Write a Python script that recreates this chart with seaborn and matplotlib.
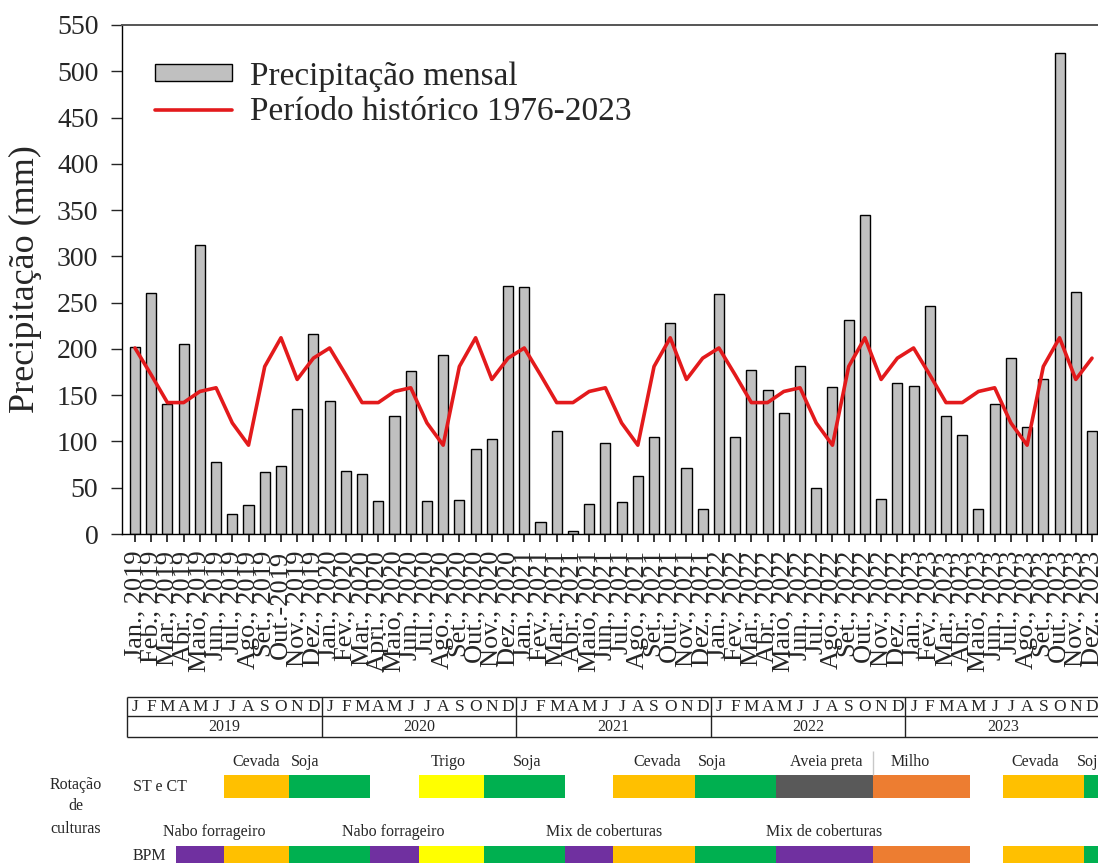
import numpy as np
import pandas as pd
import matplotlib
matplotlib.use("Agg")
import matplotlib.pyplot as plt
import seaborn as sns
from matplotlib.patches import Patch
from matplotlib.lines import Line2D

# ---------------- data ----------------
years = [2019, 2020, 2021, 2022, 2023]
month_letters = ["J", "F", "M", "A", "M", "J", "J", "A", "S", "O", "N", "D"]

month_labels = [
    "Jan., 2019", "Feb., 2019", "Mar., 2019", "Abr., 2019", "Maio, 2019", "Jun., 2019",
    "Jul., 2019", "Ago., 2019", "Set., 2019", "Out.-2019", "Nov., 2019", "Dez., 2019",
    "Jan., 2020", "Fev., 2020", "Mar., 2020", "Apri., 2020", "Maio, 2020", "Jun., 2020",
    "Jul., 2020", "Ago., 2020", "Set., 2020", "Out., 2020", "Nov., 2020", "Dez., 2020",
    "Jan., 2021", "Fev., 2021", "Mar., 2021", "Abr., 2021", "Maio, 2021", "Jun., 2021",
    "Jul., 2021", "Ago., 2021", "Set., 2021", "Out., 2021", "Nov., 2021", "Dez., 2021",
    "Jan., 2022", "Fev., 2022", "Mar., 2022", "Abr., 2022", "Maio, 2022", "Jun., 2022",
    "Jul., 2022", "Ago., 2022", "Set., 2022", "Out., 2022", "Nov., 2022", "Dez., 2022",
    "Jan., 2023", "Fev., 2023", "Mar., 2023", "Abr., 2023", "Maio, 2023", "Jun., 2023",
    "Jul., 2023", "Ago., 2023", "Set., 2023", "Out., 2023", "Nov., 2023", "Dez., 2023",
]

precip_2019 = [202, 260, 141, 205, 312, 78, 22, 31, 67, 74, 135, 216]
precip_2020 = [144, 68, 65, 36, 128, 176, 36, 193, 37, 92, 103, 268]
precip_2021 = [267, 13, 111, 3, 32, 98, 35, 63, 105, 228, 71, 27]
precip_2022 = [259, 105, 177, 156, 131, 181, 50, 159, 231, 345, 38, 163]
precip_2023 = [160, 246, 128, 107, 27, 141, 190, 116, 167, 520, 261, 111]

# historical monthly mean 1976-2023 (Jan..Dez)
historico = [201, 172, 142, 142, 154, 158, 120, 96, 181, 212, 167, 190]

# crop rotation (start/end in month index units, 0 = Jan 2019)
st_crops = ["Cevada", "Soja", "Trigo", "Soja", "Cevada", "Soja", "Aveia preta", "Milho", "Cevada", "Soja"]
st_start = [5.5, 9.5, 17.5, 21.5, 29.5, 34.5, 39.5, 45.5, 53.5, 58.5]
st_end = [9.5, 14.5, 21.5, 26.5, 34.5, 39.5, 45.5, 51.5, 58.5, 61.0]
st_label_text = ["Cevada", "Soja", "Trigo", "Soja", "Cevada", "Soja", "Aveia preta", "Milho", "Cevada", "Soja"]
st_label_pos = [7.5, 10.5, 19.3, 24.2, 32.2, 35.6, 42.6, 47.8, 55.5, 58.95]

bpm_crops = ["Cobertura", "Cevada", "Soja", "Cobertura", "Trigo", "Soja", "Cobertura",
             "Cevada", "Soja", "Cobertura", "Milho", "Cevada", "Soja"]
bpm_start = [2.5, 5.5, 9.5, 14.5, 17.5, 21.5, 26.5, 29.5, 34.5, 39.5, 45.5, 53.5, 58.5]
bpm_end = [5.5, 9.5, 14.5, 17.5, 21.5, 26.5, 29.5, 34.5, 39.5, 45.5, 51.5, 58.5, 61.0]
bpm_label_text = ["Nabo forrageiro", "Nabo forrageiro", "Mix de coberturas", "Mix de coberturas"]
bpm_label_pos = [4.9, 15.9, 28.9, 42.5]

crop_colors = {
    "Cevada": "#FFC000", "Soja": "#00B050", "Trigo": "#FFFF00",
    "Aveia preta": "#595959", "Milho": "#ED7D31", "Cobertura": "#7030A0",
}

precip = precip_2019 + precip_2020 + precip_2021 + precip_2022 + precip_2023
hist_series = historico * len(years)
df = pd.DataFrame({"mes": month_labels, "precip": precip})

# ---------------- style ----------------
sns.set_style("ticks")
plt.rcParams["font.family"] = ["Liberation Serif", "DejaVu Serif"]

W, H = 1098, 863
fig = plt.figure(figsize=(W / 100, H / 100), dpi=100)

ax_left_px, ax_right_px, ax_top_px, ax_bot_px = 122, 1098, 25, 534
ax = fig.add_axes([ax_left_px / W, 1 - ax_bot_px / H,
                   (ax_right_px - ax_left_px) / W, (ax_bot_px - ax_top_px) / H])

sns.barplot(data=df, x="mes", y="precip", order=month_labels, color="#c0c0c0",
            saturation=1, edgecolor="black", linewidth=1.0, width=0.62, ax=ax)
sns.lineplot(x=np.arange(len(hist_series)), y=hist_series, color="#e31a1c",
             linewidth=2.6, ax=ax)

xlim = (-0.8, 59.37)
ax.set_xlim(*xlim)
ax.set_ylim(0, 550)
ax.set_yticks(np.arange(0, 551, 50))
ax.set_xticks(np.arange(len(month_labels)))
ax.set_xticklabels(month_labels, rotation=90, fontsize=19)
ax.tick_params(axis="y", labelsize=20, length=8, width=1.0, direction="out", pad=9)
ax.tick_params(axis="x", length=6, width=1.3, direction="out", pad=6)
ax.set_xlabel("")
ax.set_ylabel("Precipitação (mm)", fontsize=26)
ax.yaxis.set_label_coords(-0.082, 0.5)

for s in ["left", "bottom"]:
    ax.spines[s].set_color("black")
    ax.spines[s].set_linewidth(1.0)
ax.spines["top"].set_visible(True)
ax.spines["top"].set_color("#555555")
ax.spines["top"].set_linewidth(1.4)
ax.spines["right"].set_visible(False)

handles = [Patch(facecolor="#c0c0c0", edgecolor="black", linewidth=1.0),
           Line2D([0], [0], color="#e31a1c", linewidth=2.6)]
ax.legend(handles, ["Precipitação mensal", "Período histórico 1976-2023"],
          loc="upper left", bbox_to_anchor=(155 / W, 1 - 61 / H),
          bbox_transform=fig.transFigure, frameon=False, fontsize=24,
          handlelength=2.3, handleheight=0.42, handletextpad=0.55,
          labelspacing=0.15, borderpad=0, borderaxespad=0)

# ---------------- lower panel: calendar table + crop rotation ----------------
top_px = 688
ax2 = fig.add_axes([ax_left_px / W, 0, (ax_right_px - ax_left_px) / W, (H - top_px) / H])
ax2.set_xlim(*xlim)
ax2.set_ylim(H, top_px)
ax2.axis("off")

y_top, y_mid, y_bot = 697, 716, 737
ax2.hlines([y_top, y_mid, y_bot], -0.5, 61, color="#222222", linewidth=1.0, clip_on=False)
ax2.vlines([-0.5 + 12 * i for i in range(len(years))], y_top, y_bot,
           color="#222222", linewidth=1.0)
for yi, yr in enumerate(years):
    for k, let in enumerate(month_letters):
        ax2.text(12 * yi + k, (y_top + y_mid) / 2 + 0.5, let, ha="center", va="center",
                 fontsize=12.5)
    ax2.text(12 * yi + 5.5, (y_mid + y_bot) / 2 + 0.5, str(yr), ha="center",
             va="center", fontsize=11.5)

row1_y0, row1_y1, row1_text = 775, 798, 762
row2_y0, row2_y1, row2_text = 846, 872, 832

for c, s0, s1 in zip(st_crops, st_start, st_end):
    ax2.fill_between([s0, s1], row1_y0, row1_y1, color=crop_colors[c], linewidth=0)
for t, xp in zip(st_label_text, st_label_pos):
    ax2.text(xp, row1_text, t, ha="center", va="center", fontsize=11.5, clip_on=False)
ax2.vlines([st_start[st_crops.index("Milho")]], 751, row1_y0, color="#c8c8c8", linewidth=1.0)

for c, s0, s1 in zip(bpm_crops, bpm_start, bpm_end):
    ax2.fill_between([s0, s1], row2_y0, row2_y1, color=crop_colors[c], linewidth=0)
for t, xp in zip(bpm_label_text, bpm_label_pos):
    ax2.text(xp, row2_text, t, ha="center", va="center", fontsize=11.5)

fig.text(76 / W, 1 - 785 / H, "Rotação", ha="center", va="center", fontsize=11.5)
fig.text(76 / W, 1 - 806 / H, "de", ha="center", va="center", fontsize=11.5)
fig.text(76 / W, 1 - 829 / H, "culturas", ha="center", va="center", fontsize=11.5)
fig.text(133 / W, 1 - 787 / H, "ST e CT", ha="left", va="center", fontsize=11.5)
fig.text(133 / W, 1 - 856 / H, "BPM", ha="left", va="center", fontsize=11.5)

fig.savefig("out.png", dpi=100)
